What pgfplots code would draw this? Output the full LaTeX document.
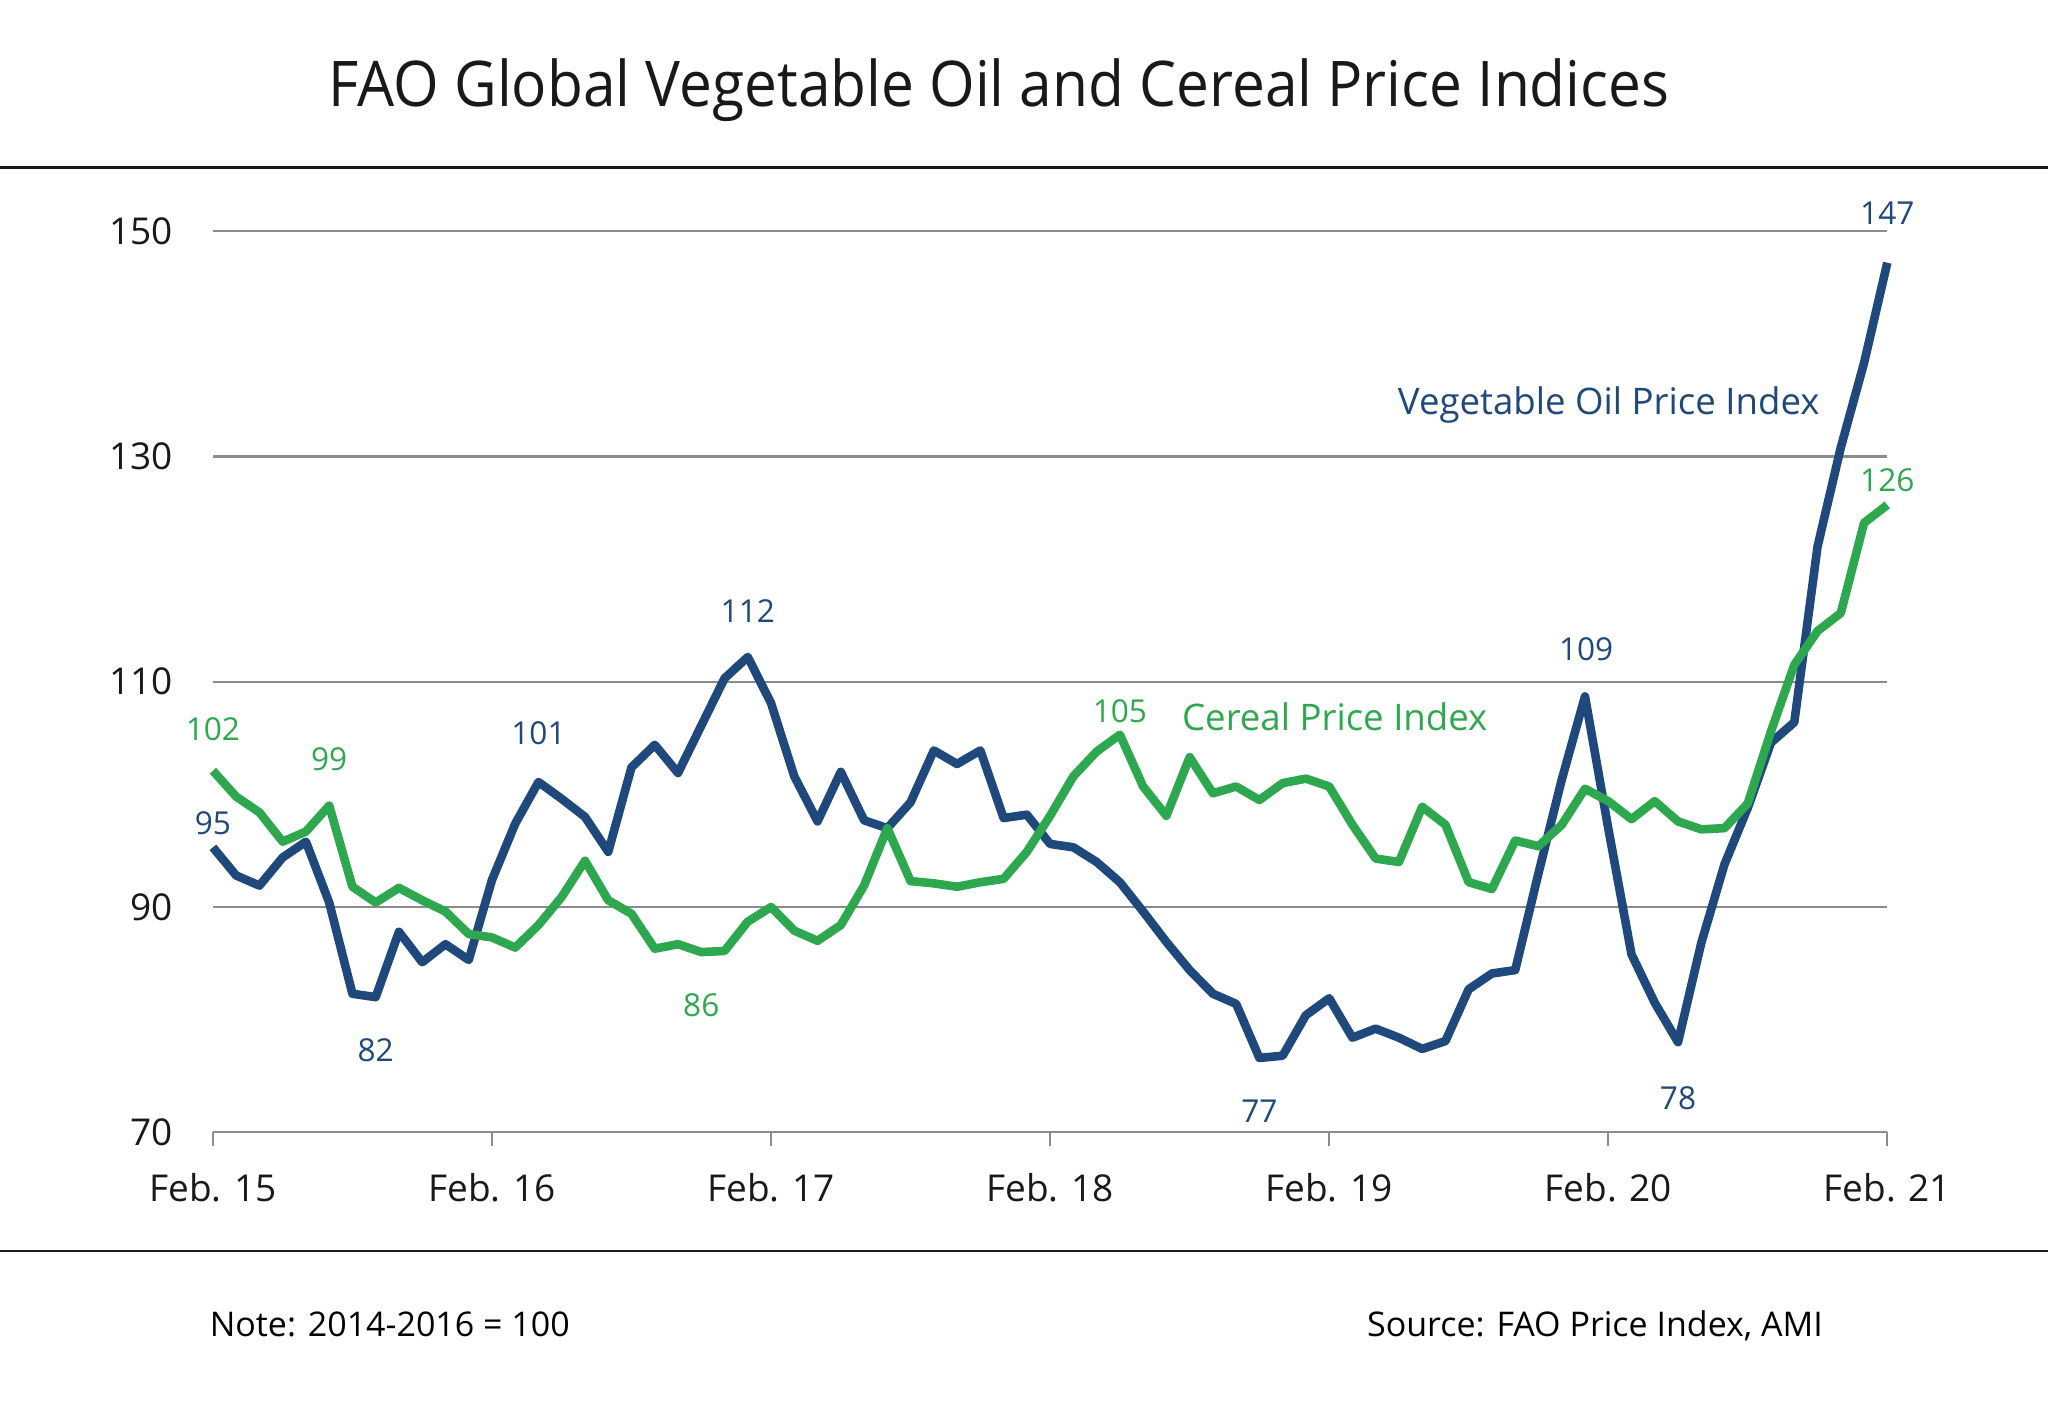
\documentclass[border=0pt]{standalone}
\usepackage{fontspec}
\setmainfont{Open Sans}
\newfontfamily\titlefont{Open Sans}[FakeStretch=0.93]
\usepackage{pgfplots}
\pgfplotsset{compat=1.18}
\definecolor{oilblue}{RGB}{31,72,124}
\definecolor{cerealgreen}{RGB}{46,168,79}
\definecolor{gridgray}{RGB}{140,140,140}
\begin{document}
\begin{tikzpicture}
\path[use as bounding box] (0,0) rectangle (1024pt,701pt);
\begin{axis}[
  at={(106.45pt,134.85pt)}, anchor=south west,
  scale only axis, width=837.2pt, height=450.55pt,
  xmin=0, xmax=72, ymin=70, ymax=150,
  enlargelimits=false, clip=false,
  separate axis lines,
  axis x line*=bottom, axis y line*=left,
  y axis line style={draw=none},
  x axis line style={draw=gridgray, line width=1.1pt},
  xtick={0,12,24,36,48,60,72},
  xticklabels={Feb. 15,Feb. 16,Feb. 17,Feb. 18,Feb. 19,Feb. 20,Feb. 21},
  ytick={70,90,110,130,150},
  ymajorgrids,
  grid style={draw=gridgray, line width=1.1pt},
  ytick style={draw=none},
  xtick style={draw=gridgray, line width=1.1pt},
  tick align=outside, major tick length=7pt,
  /pgf/number format/assume math mode=true,
  ticklabel style={font=\fontsize{18.5}{22}\selectfont, text=black!90},
  xticklabel style={anchor=base, inner sep=0pt, yshift=-27.7pt},
  yticklabel style={anchor=east, inner sep=0pt, xshift=-12.7pt},
]
\addplot[oilblue, line width=4.3pt, line join=round] table {
0 95.3
1 92.8
2 91.9
3 94.4
4 95.8
5 90.4
6 82.3
7 82.0
8 87.8
9 85.1
10 86.7
11 85.3
12 92.4
13 97.4
14 101.1
15 99.6
16 98.0
17 94.9
18 102.4
19 104.4
20 101.9
21 106.1
22 110.3
23 112.2
24 108.1
25 101.6
26 97.6
27 102.0
28 97.7
29 97.0
30 99.3
31 103.9
32 102.7
33 103.9
34 97.9
35 98.2
36 95.6
37 95.3
38 94.0
39 92.2
40 89.6
41 86.9
42 84.4
43 82.3
44 81.4
45 76.6
46 76.8
47 80.4
48 81.9
49 78.4
50 79.2
51 78.4
52 77.4
53 78.1
54 82.7
55 84.1
56 84.4
57 93.0
58 101.3
59 108.7
60 97.0
61 85.8
62 81.5
63 78.0
64 86.8
65 93.8
66 98.8
67 104.6
68 106.4
69 122.0
70 130.8
71 138.3
72 147.2
};
\addplot[cerealgreen, line width=4.3pt, line join=round] table {
0 102.1
1 99.8
2 98.4
3 95.8
4 96.7
5 99.0
6 91.8
7 90.4
8 91.7
9 90.6
10 89.6
11 87.6
12 87.3
13 86.4
14 88.4
15 90.9
16 94.1
17 90.6
18 89.4
19 86.3
20 86.7
21 86.0
22 86.1
23 88.7
24 90.0
25 87.9
26 87.0
27 88.4
28 91.9
29 97.0
30 92.3
31 92.1
32 91.8
33 92.2
34 92.5
35 94.9
36 98.1
37 101.6
38 103.8
39 105.3
40 100.7
41 98.1
42 103.3
43 100.1
44 100.7
45 99.5
46 101.0
47 101.4
48 100.7
49 97.3
50 94.3
51 94.0
52 98.9
53 97.3
54 92.2
55 91.6
56 95.9
57 95.4
58 97.3
59 100.5
60 99.4
61 97.8
62 99.4
63 97.6
64 96.9
65 97.0
66 99.2
67 105.6
68 111.5
69 114.5
70 116.1
71 124.1
72 125.7
};
\begin{scope}[every node/.style={inner sep=0pt, font=\fontsize{15.8}{18}\selectfont}]
\node[anchor=base, text=oilblue] at (axis cs:72,150.6) {147};
\node[anchor=base, text=cerealgreen] at (axis cs:72,126.9) {126};
\node[anchor=base, text=oilblue] at (axis cs:23,115.3) {112};
\node[anchor=base, text=oilblue] at (axis cs:59.05,111.9) {109};
\node[anchor=base, text=oilblue] at (axis cs:14,104.4) {101};
\node[anchor=base, text=cerealgreen] at (axis cs:39,106.4) {105};
\node[anchor=base, text=cerealgreen] at (axis cs:0,104.8) {102};
\node[anchor=base, text=oilblue] at (axis cs:0,96.4) {95};
\node[anchor=base, text=cerealgreen] at (axis cs:5,102.1) {99};
\node[anchor=base, text=oilblue] at (axis cs:7,76.3) {82};
\node[anchor=base, text=cerealgreen] at (axis cs:21,80.3) {86};
\node[anchor=base, text=oilblue] at (axis cs:45,70.9) {77};
\node[anchor=base, text=oilblue] at (axis cs:63,72.0) {78};
\end{scope}
\node[anchor=base east, inner sep=0pt, text=oilblue, font=\fontsize{18.3}{22}\selectfont] at (axis cs:69.1,133.7) {Vegetable Oil Price Index};
\node[anchor=base west, inner sep=0pt, text=cerealgreen, font=\fontsize{18.3}{22}\selectfont] at (axis cs:41.66,105.7) {Cereal Price Index};
\end{axis}
\node[anchor=base, inner sep=0pt, text=black!90, font=\titlefont\fontsize{31.5}{36}\selectfont] at (499.5pt,647.7pt) {FAO Global Vegetable Oil and Cereal Price Indices};
\draw[line width=1.3pt, black!90] (0,617.2pt) -- (1024pt,617.2pt);
\draw[line width=1.3pt, black!90] (0,75.5pt) -- (1024pt,75.5pt);
\node[anchor=base west, inner sep=0pt, font=\fontsize{17}{20}\selectfont] at (104.7pt,32.7pt) {Note: 2014-2016 = 100};
\node[anchor=base east, inner sep=0pt, font=\fontsize{17}{20}\selectfont] at (911.6pt,32.7pt) {Source: FAO Price Index, AMI};
\end{tikzpicture}
\end{document}
